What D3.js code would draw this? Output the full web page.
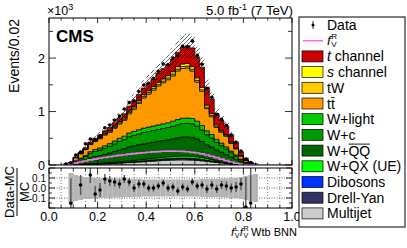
<!DOCTYPE html>
<html><head><meta charset="utf-8">
<script src="https://cdn.jsdelivr.net/npm/d3@7"></script>
<style>body{margin:0;background:#fff}svg{font-family:"Liberation Sans",Arial,Helvetica,sans-serif}</style>
</head><body>
<svg id="c" width="407" height="248"></svg>
<script>
// ---- data (bin lower edges, width 0.02) ----
const binLow = [0.06,0.08,0.10,0.12,0.14,0.16,0.18,0.20,0.22,0.24,0.26,0.28,0.30,0.32,0.34,0.36,0.38,0.40,0.42,0.44,0.46,0.48,0.50,0.52,0.54,0.56,0.58,0.60,0.62,0.64,0.66,0.68,0.70,0.72,0.74,0.76,0.78,0.80,0.82,0.84];
const binW = 0.02;
const multijet = [2,4,6,8,10,13,16,19,22,26,30,35,40,45,50,55,60,66,72,78,84,88,92,95,96,95,92,86,78,68,58,48,38,29,21,14,8,4,2,1];
const drellYan = [1,1,2,2,3,4,4,5,6,7,8,9,10,11,12,14,15,16,18,19,21,22,23,24,24,24,23,21,19,17,14,12,9,7,5,3,2,1,1,0];
const dibosons = [0,0,1,1,1,1,2,2,2,3,3,3,4,4,5,5,6,6,7,7,8,8,9,9,10,10,9,9,8,7,6,5,4,3,2,2,1,1,0,0];
const wqx = [1,2,3,4,5,6,7,8,9,10,12,14,16,18,20,22,24,26,28,30,32,34,36,38,39,40,39,37,34,30,26,22,18,14,10,7,4,2,1,0];
const wqq = [2,9,34,58,80,113,130,143,160,177,198,220,235,261,272,282,292,298,302,308,312,319,330,342,353,355,353,333,300,259,233,196,170,143,111,82,47,21,8,2];
const wc = [1,6,24,41,58,81,94,103,116,127,143,158,169,188,195,203,211,215,218,222,225,230,238,246,254,256,255,240,216,186,168,142,123,103,80,59,34,15,6,1];
const wlight = [1,3,10,16,23,32,37,40,45,50,56,61,66,73,76,79,82,83,85,86,88,89,92,96,99,100,99,94,85,73,65,55,48,41,31,23,14,6,2,1];
const ttbar = [5,19,54,80,108,133,152,173,202,212,240,269,295,359,416,493,566,618,670,730,769,806,848,910,933,937,888,732,637,415,333,222,200,197,144,111,58,33,14,6];
const tW = [1,2,5,7,9,11,13,14,16,17,19,20,22,24,25,26,28,29,30,31,32,33,34,35,35,35,34,32,30,27,24,20,17,14,11,8,5,3,1,0];
const sChannel = [0,1,3,5,7,9,11,13,15,17,19,21,23,25,27,29,31,33,35,37,39,41,43,45,47,48,48,46,43,38,33,28,23,19,15,11,7,4,2,1];
const tChannel = [1,3,8,14,20,27,34,40,47,54,62,70,80,92,102,112,125,140,155,172,190,210,235,270,310,330,350,380,380,330,270,210,180,160,130,100,70,40,18,6];
const signalFVR = [3,15,35,55,75,95,110,125,140,155,168,180,192,203,213,222,230,238,245,251,256,259,260,258,254,247,237,224,208,188,165,138,110,82,56,34,16,6,2,0];
// (data - MC)/MC per bin
const ratio = [0.30,-0.153,0.25,0.03,0.22,0.13,-0.06,-0.02,0.09,0.07,0.06,0.04,0.09,0.06,0.00,0.04,0.04,0.00,0.00,0.02,0.05,0.00,0.01,-0.03,0.01,-0.01,0.06,0.02,0.03,-0.01,0.03,-0.01,0.03,0.02,0.00,0.01,0.04,-0.19,-0.15,null];
const ratioErr = [0.3,0.25,0.2,0.1,0.1,0.08,0.08,0.07,0.05,0.05,0.045,0.045,0.04,0.04,0.04,0.04,0.035,0.035,0.035,0.035,0.035,0.035,0.035,0.035,0.035,0.035,0.035,0.035,0.035,0.04,0.04,0.04,0.04,0.045,0.045,0.05,0.06,0.3,0.35,0.4];
const mcUnc = [0,0.15,0.13,0.12,0.11,0.11,0.1,0.1,0.1,0.1,0.095,0.095,0.09,0.09,0.09,0.09,0.085,0.085,0.085,0.085,0.085,0.085,0.085,0.085,0.085,0.085,0.085,0.085,0.09,0.09,0.09,0.09,0.095,0.095,0.1,0.1,0.11,0.12,0.13,0.14];
const xTicks = [0,0.2,0.4,0.6,0.8,1.0];
const xTickLabels = ["0.0","0.2","0.4","0.6","0.8","1.0"];
const yTicks = [0,1000,2000];
const yTickLabels = ["0","1","2"];
const rTicks = [0.1,0,-0.1];
const rTickLabels = ["0.1","0.0","-0.1"];

const keys = ["multijet","drellYan","dibosons","wqx","wqq","wc","wlight","ttbar","tW","sChannel","tChannel"];
const seriesMap = {multijet,drellYan,dibosons,wqx,wqq,wc,wlight,ttbar,tW,sChannel,tChannel};
const colors = {tChannel:"#cc0000",sChannel:"#ffff00",tW:"#ffcc00",ttbar:"#ff9900",wlight:"#00cc00",wc:"#009900",wqq:"#006600",wqx:"#00ff00",dibosons:"#0033ff",drellYan:"#333366",multijet:"#cccccc"};
const signalColor = "#f070f0";

// ---- layout ----
const X0=49, X1=292, YT=18, YB=165, RT=168, RB=208;
const x = d3.scaleLinear([0,1],[X0,X1]);
const y = d3.scaleLinear([0,2750],[YB,YT]);
const yr = d3.scaleLinear([-0.2,0.2],[RB,RT]);
const svg = d3.select("#c");
const defs = svg.append("defs");
defs.append("clipPath").attr("id","cm").append("rect").attr("x",X0).attr("y",YT).attr("width",X1-X0).attr("height",YB-YT);
defs.append("clipPath").attr("id","cr").append("rect").attr("x",X0).attr("y",RT).attr("width",X1-X0).attr("height",RB-RT);
const pat = defs.append("pattern").attr("id","hatch").attr("patternUnits","userSpaceOnUse").attr("width",4).attr("height",4);
pat.append("path").attr("d","M-1,1 l2,-2 M0,4 l4,-4 M3,5 l2,-2").attr("stroke","#000").attr("stroke-width",0.6);

// ---- main panel ----
const gm = svg.append("g").attr("clip-path","url(#cm)");
const rows = binLow.map((b,i)=>{const r={x:b}; keys.forEach(k=>r[k]=seriesMap[k][i]); return r;});
const stacked = d3.stack().keys(keys)(rows);
const area = d3.area().x(d=>x(d.x)).y0(d=>y(d.y0)).y1(d=>y(d.y1)).curve(d3.curveStepAfter);
stacked.forEach(layer=>{
  const pts = layer.map(d=>({x:d.data.x,y0:d[0],y1:d[1]}));
  const last = pts[pts.length-1];
  pts.push({x:last.x+binW,y0:last.y0,y1:last.y1});
  gm.append("path").attr("d",area(pts)).attr("fill",colors[layer.key]).attr("stroke","#000").attr("stroke-width",0.7);
});
const total = rows.map(r=>d3.sum(keys,k=>r[k]));
binLow.forEach((b,i)=>{
  const t=total[i], u=Math.max(mcUnc[i],0.1);
  gm.append("rect").attr("x",x(b)).attr("width",x(b+binW)-x(b))
    .attr("y",y(t*(1+u))).attr("height",y(t*(1-u))-y(t*(1+u)))
    .attr("fill","url(#hatch)");
});
const sigPts = [{x:0,v:0},{x:binLow[0],v:0}];
binLow.forEach((b,i)=>sigPts.push({x:b,v:signalFVR[i]}));
sigPts.push({x:binLow[binLow.length-1]+binW,v:0},{x:1,v:0});
gm.append("path").attr("d",d3.line().x(d=>x(d.x)).y(d=>y(d.v)).curve(d3.curveStepAfter)(sigPts))
  .attr("fill","none").attr("stroke",signalColor).attr("stroke-width",1.6);
binLow.forEach((b,i)=>{
  if(ratio[i]===null) return;
  const t=total[i], v=t*(1+ratio[i]), e=t*ratioErr[i]*0.35;
  const cx=x(b+binW/2);
  gm.append("line").attr("x1",cx).attr("x2",cx).attr("y1",y(v+e)).attr("y2",y(Math.max(0,v-e))).attr("stroke","#000").attr("stroke-width",0.8);
  gm.append("circle").attr("cx",cx).attr("cy",y(v)).attr("r",1.8).attr("fill","#000");
});
svg.append("rect").attr("x",X0).attr("y",YT).attr("width",X1-X0).attr("height",YB-YT).attr("fill","none").attr("stroke","#000").attr("stroke-width",1);

// ---- ratio panel ----
const gr = svg.append("g").attr("clip-path","url(#cr)");
rTicks.forEach(t=>gr.append("line").attr("x1",X0).attr("x2",X1).attr("y1",yr(t)).attr("y2",yr(t)).attr("stroke","#000").attr("stroke-width",0.6).attr("stroke-dasharray","1,1.5"));
d3.range(0.05,1.0,0.05).forEach(t=>gr.append("line").attr("x1",x(t)).attr("x2",x(t)).attr("y1",RT).attr("y2",RB).attr("stroke","#000").attr("stroke-width",0.5).attr("stroke-dasharray","1,2"));
binLow.forEach((b,i)=>{
  if(!mcUnc[i]) return;
  gr.append("rect").attr("x",x(b)).attr("width",x(b+binW)-x(b)).attr("y",yr(mcUnc[i])).attr("height",yr(-mcUnc[i])-yr(mcUnc[i])).attr("fill","#b4b4b4");
});
binLow.forEach((b,i)=>{
  const r=ratio[i]; if(r===null||r>0.2||r<-0.2) return;
  const cx=x(b+binW/2);
  gr.append("line").attr("x1",cx).attr("x2",cx).attr("y1",yr(r+ratioErr[i])).attr("y2",yr(r-ratioErr[i])).attr("stroke","#555").attr("stroke-width",1.4);
  gr.append("circle").attr("cx",cx).attr("cy",yr(r)).attr("r",1.8).attr("fill","#000");
});
svg.append("rect").attr("x",X0).attr("y",RT).attr("width",X1-X0).attr("height",RB-RT).attr("fill","none").attr("stroke","#000").attr("stroke-width",1);

// ---- ticks ----
const tk = svg.append("g").attr("stroke","#000").attr("stroke-width",0.8);
d3.range(0,1.0001,0.05).forEach(t=>{
  const major = Math.abs(t*5-Math.round(t*5))<1e-6;
  const L = major?5:2.5, xx=x(t);
  tk.append("line").attr("x1",xx).attr("x2",xx).attr("y1",YB).attr("y2",YB-L);
  tk.append("line").attr("x1",xx).attr("x2",xx).attr("y1",YT).attr("y2",YT+L);
  tk.append("line").attr("x1",xx).attr("x2",xx).attr("y1",RB).attr("y2",RB-L*1.2);
  tk.append("line").attr("x1",xx).attr("x2",xx).attr("y1",RT).attr("y2",RT+L*1.2);
});
d3.range(0,2751,500).forEach(t=>{
  const L = t%1000===0?7:4;
  tk.append("line").attr("x1",X0).attr("x2",X0+L).attr("y1",y(t)).attr("y2",y(t));
  tk.append("line").attr("x1",X1).attr("x2",X1-L).attr("y1",y(t)).attr("y2",y(t));
});
d3.range(-0.2,0.2001,0.05).forEach(t=>{
  const L = Math.abs(t*10-Math.round(t*10))<1e-6?6:3;
  tk.append("line").attr("x1",X0).attr("x2",X0+L).attr("y1",yr(t)).attr("y2",yr(t));
  tk.append("line").attr("x1",X1).attr("x2",X1-L).attr("y1",yr(t)).attr("y2",yr(t));
});

// ---- labels ----
const fs = 12.5;
xTicks.forEach((t,i)=>svg.append("text").attr("x",x(t)).attr("y",221).attr("text-anchor","middle").attr("font-size",fs).text(xTickLabels[i]));
yTicks.forEach((t,i)=>svg.append("text").attr("x",45).attr("y",y(t)+4.5).attr("text-anchor","end").attr("font-size",fs).text(yTickLabels[i]));
rTicks.forEach((t,i)=>svg.append("text").attr("x",46).attr("y",yr(t)+3.5).attr("text-anchor","end").attr("font-size",10).text(rTickLabels[i]));
const xm = svg.append("text").attr("x",47).attr("y",15).attr("font-size",12.5);
xm.append("tspan").text("\u00d710");
xm.append("tspan").attr("dy",-5).attr("font-size",9).text("3");
svg.append("text").attr("transform","translate(19,19) rotate(-90)").attr("text-anchor","end").attr("font-size",14).text("Events/0.02");
svg.append("text").attr("x",56).attr("y",42).attr("font-size",17).attr("font-weight","bold").text("CMS");
const lumi = svg.append("text").attr("x",293).attr("y",15).attr("text-anchor","end").attr("font-size",13.2);
lumi.append("tspan").text("5.0 fb");
lumi.append("tspan").attr("dy",-5).attr("font-size",9).text("-1");
lumi.append("tspan").attr("dy",5).text(" (7 TeV)");
svg.append("text").attr("transform","translate(14,192) rotate(-90)").attr("text-anchor","middle").attr("font-size",13).text("Data-MC");
svg.append("line").attr("x1",17).attr("x2",17).attr("y1",168).attr("y2",216).attr("stroke","#000").attr("stroke-width",1);
svg.append("text").attr("transform","translate(28.5,192) rotate(-90)").attr("text-anchor","middle").attr("font-size",13).text("MC");

function fSym(g, x0, yb, size, sup, ss){
  ss = ss || 0.62;
  const f = g.append("text").attr("x",x0).attr("y",yb).attr("font-size",size).attr("font-style","italic").text("f");
  const fw = f.node().getComputedTextLength()+0.5;
  const s1 = g.append("text").attr("x",x0+fw).attr("y",yb-size*0.4).attr("font-size",size*ss).text(sup);
  const s2 = g.append("text").attr("x",x0+fw).attr("y",yb+size*0.18).attr("font-size",size*ss).text("V");
  return fw+Math.max(s1.node().getComputedTextLength(),s2.node().getComputedTextLength());
}
const xfs = 11.5;
const xt = svg.append("g");
let cur = 0;
cur += fSym(xt,cur,0,xfs,"L");
cur += fSym(xt,cur+0.3,0,xfs,"R")+0.3;
xt.append("text").attr("x",cur+2.5).attr("y",0).attr("font-size",11).text("Wtb BNN");
const xtw = xt.node().getBBox().width;
xt.attr("transform",`translate(${297-xtw},236)`);

// ---- legend ----
const LX0=299, LX1=405, LY0=17, LY1=227;
svg.append("rect").attr("x",LX0).attr("y",LY0).attr("width",LX1-LX0).attr("height",LY1-LY0).attr("fill","#fff").attr("stroke","#000").attr("stroke-width",1);
const legendKeys = ["data","signal","tChannel","sChannel","tW","ttbar","wlight","wc","wqq","wqx","dibosons","drellYan","multijet"];
const legendLabels = {tChannel:"t channel",sChannel:"s channel",tW:"tW",ttbar:"tt",wlight:"W+light",wc:"W+c",wqq:"W+QQ",wqx:"W+QX (UE)",dibosons:"Dibosons",drellYan:"Drell-Yan",multijet:"Multijet",data:"Data"};
const lg = svg.append("g");
const lfs = 14, tx = 327;
legendKeys.forEach((k,i)=>{
  const cy = 25 + i*15.7;
  if(k==="data"){
    lg.append("line").attr("x1",313).attr("x2",313).attr("y1",cy-4).attr("y2",cy+4).attr("stroke","#000").attr("stroke-width",0.8);
    lg.append("circle").attr("cx",313).attr("cy",cy).attr("r",1.5).attr("fill","#000");
    lg.append("text").attr("x",tx).attr("y",cy+5).attr("font-size",lfs).text("Data");
    return;
  }
  if(k==="signal"){
    lg.append("line").attr("x1",303).attr("x2",323).attr("y1",cy).attr("y2",cy).attr("stroke",signalColor).attr("stroke-width",1.6);
    fSym(lg,tx,cy+4,13.5,"R",0.6);
    return;
  }
  lg.append("rect").attr("x",302).attr("y",cy-5.5).attr("width",21).attr("height",11).attr("fill",colors[k]).attr("stroke","#000").attr("stroke-width",0.7);
  const t = lg.append("text").attr("x",tx).attr("y",cy+5).attr("font-size",lfs);
  if(k==="tChannel"||k==="sChannel"){
    t.append("tspan").attr("font-style","italic").text(legendLabels[k][0]);
    t.append("tspan").text(legendLabels[k].slice(1));
  } else t.text(legendLabels[k]);
  if(k==="ttbar"){
    const n=t.node(); const a=n.getSubStringLength(0,1), b=n.getSubStringLength(1,1);
    lg.append("line").attr("x1",tx+a+0.3).attr("x2",tx+a+b-0.3).attr("y1",cy-6).attr("y2",cy-6).attr("stroke","#000").attr("stroke-width",0.9);
  }
  if(k==="wqq"){
    const n=t.node(); const a=n.getSubStringLength(0,2), b=n.getSubStringLength(2,2);
    lg.append("line").attr("x1",tx+a+0.3).attr("x2",tx+a+b-0.3).attr("y1",cy-6.5).attr("y2",cy-6.5).attr("stroke","#000").attr("stroke-width",0.9);
  }
});
</script>
</body></html>
